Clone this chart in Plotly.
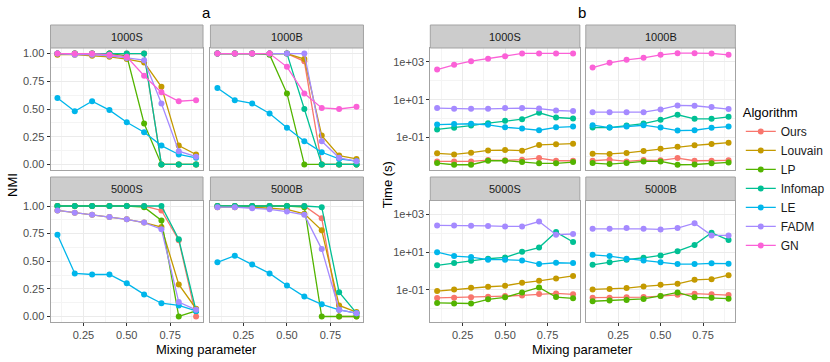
import plotly.graph_objects as go

W, H = 830, 362

mixing = [0.1, 0.2, 0.3, 0.4, 0.5, 0.6, 0.7, 0.8, 0.9]
algorithms = ["Ours", "Louvain", "LP", "Infomap", "LE", "FADM", "GN"]
colors = ["#F8766D", "#C49A00", "#53B400", "#00C094", "#00B6EB", "#A58AFF", "#FB61D7"]
datasets = ["1000S", "1000B", "5000S", "5000B"]

# NMI (panel a)
nmi_1000S = {
    "Ours":    [1, 1, 1, 1, 1, 1, 0, 0, 0],
    "Louvain": [0.99, 0.99, 0.98, 0.97, 0.95, 0.92, 0.70, 0.17, 0.09],
    "LP":      [1, 1, 1, 1, 0.98, 0.37, 0, 0, 0],
    "Infomap": [1, 1, 1, 1, 1, 1, 0, 0, 0],
    "LE":      [0.60, 0.48, 0.57, 0.49, 0.38, 0.29, 0.17, 0.09, 0.06],
    "FADM":    [1, 0.99, 0.99, 0.98, 0.96, 0.94, 0.55, 0.12, 0.07],
    "GN":      [1, 1, 1, 0.99, 0.97, 0.80, 0.65, 0.57, 0.58],
}
nmi_1000B = {
    "Ours":    [1, 1, 1, 1, 1, 0.93, 0, 0, 0],
    "Louvain": [1, 1, 1, 1, 1, 0.95, 0.26, 0.08, 0.05],
    "LP":      [1, 1, 1, 0.99, 0.64, 0, 0, 0, 0],
    "Infomap": [1, 1, 1, 1, 1, 0.50, 0, 0, 0],
    "LE":      [0.69, 0.58, 0.55, 0.46, 0.33, 0.21, 0.11, 0.05, 0.03],
    "FADM":    [1, 1, 1, 1, 1, 1, 0.21, 0.06, 0.03],
    "GN":      [1, 1, 1, 1, 0.88, 0.64, 0.51, 0.50, 0.52],
}
nmi_5000S = {
    "Ours":    [1, 1, 1, 1, 1, 1, 0.96, 0.69, 0],
    "Louvain": [0.96, 0.94, 0.92, 0.90, 0.88, 0.85, 0.81, 0.29, 0.07],
    "LP":      [1, 1, 1, 1, 1, 0.99, 0.87, 0, 0.05],
    "Infomap": [1, 1, 1, 1, 1, 1, 1, 0.70, 0.05],
    "LE":      [0.74, 0.39, 0.38, 0.38, 0.30, 0.20, 0.12, 0.10, 0.05],
    "FADM":    [0.96, 0.94, 0.92, 0.90, 0.88, 0.85, 0.79, 0.13, 0.06],
}
nmi_5000B = {
    "Ours":    [1, 1, 1, 1, 1, 1, 0.89, 0, 0],
    "Louvain": [0.99, 0.99, 0.99, 0.98, 0.97, 0.93, 0.78, 0.10, 0.04],
    "LP":      [1, 1, 1, 1, 1, 0.99, 0, 0, 0],
    "Infomap": [1, 1, 1, 1, 1, 1, 0.99, 0.22, 0.03],
    "LE":      [0.49, 0.55, 0.47, 0.39, 0.28, 0.18, 0.11, 0.06, 0.03],
    "FADM":    [0.99, 0.99, 0.98, 0.97, 0.95, 0.92, 0.61, 0.06, 0.03],
}

# Time in seconds (panel b)
time_1000S = {
    "Ours":    [0.0055, 0.0055, 0.0055, 0.0065, 0.0063, 0.0068, 0.0083, 0.006, 0.006],
    "Louvain": [0.0148, 0.013, 0.016, 0.021, 0.022, 0.0204, 0.041, 0.044, 0.048],
    "LP":      [0.0045, 0.0037, 0.0037, 0.006, 0.006, 0.0051, 0.0044, 0.0044, 0.0051],
    "Infomap": [0.27, 0.33, 0.43, 0.58, 0.77, 0.94, 2.04, 1.15, 1.02],
    "LE":      [0.49, 0.53, 0.54, 0.47, 0.35, 0.30, 0.245, 0.35, 0.38],
    "FADM":    [3.6, 3.3, 3.3, 3.3, 3.6, 3.6, 3.4, 2.7, 2.5],
    "GN":      [392, 692, 1084, 1443, 2000, 2770, 2770, 2770, 2770],
}
time_1000B = {
    "Ours":    [0.006, 0.0068, 0.0055, 0.0065, 0.0063, 0.0083, 0.006, 0.006, 0.0063],
    "Louvain": [0.0142, 0.0137, 0.0155, 0.0196, 0.026, 0.033, 0.039, 0.046, 0.054],
    "LP":      [0.0045, 0.004, 0.0046, 0.0055, 0.0055, 0.0037, 0.0038, 0.0044, 0.0049],
    "Infomap": [0.34, 0.34, 0.43, 0.55, 0.87, 1.6, 0.98, 0.98, 1.25],
    "LE":      [0.45, 0.34, 0.38, 0.45, 0.34, 0.235, 0.245, 0.33, 0.38],
    "FADM":    [2.2, 2.2, 2.2, 2.2, 3.07, 5.0, 4.8, 4.1, 3.2],
    "GN":      [500, 885, 1276, 1630, 2350, 2880, 2880, 2770, 2350],
}
time_5000S = {
    "Ours":    [0.0366, 0.0381, 0.0397, 0.043, 0.046, 0.050, 0.059, 0.064, 0.057],
    "Louvain": [0.085, 0.104, 0.127, 0.144, 0.162, 0.233, 0.296, 0.39, 0.54],
    "LP":      [0.020, 0.0186, 0.0186, 0.031, 0.0397, 0.072, 0.132, 0.041, 0.035],
    "Infomap": [1.96, 2.6, 3.45, 4.4, 5.15, 10.2, 17.2, 114, 34],
    "LE":      [9.8, 6.05, 5.36, 3.9, 3.9, 3.6, 2.3, 2.7, 2.6],
    "FADM":    [255, 255, 245, 240, 226, 226, 413, 83, 90],
}
time_5000B = {
    "Ours":    [0.038, 0.038, 0.0397, 0.041, 0.046, 0.0547, 0.062, 0.057, 0.052],
    "Louvain": [0.104, 0.108, 0.122, 0.15, 0.183, 0.206, 0.334, 0.362, 0.587],
    "LP":      [0.0245, 0.0266, 0.0288, 0.0326, 0.047, 0.072, 0.0397, 0.038, 0.0336],
    "Infomap": [2.1, 2.9, 3.9, 4.95, 6.6, 11.1, 23.8, 105, 43],
    "LE":      [7.1, 6.05, 4.4, 3.6, 2.9, 2.3, 2.3, 2.5, 2.4],
    "FADM":    [170, 170, 185, 170, 157, 185, 338, 76, 76],
}

nmi = [nmi_1000S, nmi_1000B, nmi_5000S, nmi_5000B]
times = [time_1000S, time_1000B, time_5000S, time_5000B]

FONT = "Liberation Sans, Arial, sans-serif"
BORDER = "#A3A3A3"


def fx(px):
    return px / W


def fy(py):
    return 1 - py / H


# pixel boxes for each facet: (x0, x1) columns and (strip_top, plot_top, plot_bottom) rows
cols_a = [(51, 205), (212.5, 367)]
cols_b = [(434.5, 585.5), (591.5, 742.5)]
rows = [(25, 48, 170), (177, 200.5, 322)]

fig = go.Figure()
layout = {}
shapes = []
annotations = []

ax = 0
legend_done = set()
for panel, (cols, store) in enumerate([(cols_a, nmi), (cols_b, times)]):
    for k, name in enumerate(datasets):
        r, c = divmod(k, 2)
        ax += 1
        xa = "xaxis" if ax == 1 else f"xaxis{ax}"
        ya = "yaxis" if ax == 1 else f"yaxis{ax}"
        xref = "x" if ax == 1 else f"x{ax}"
        yref = "y" if ax == 1 else f"y{ax}"
        x0, x1 = cols[c]
        st, pt, pb = rows[r]

        layout[xa] = dict(
            domain=[fx(x0), fx(x1)], anchor=yref, range=[0.06, 0.94],
            tickvals=[0.25, 0.5, 0.75], ticktext=["0.25", "0.50", "0.75"],
            showticklabels=(r == 1), ticks="outside" if r == 1 else "",
            ticklen=3, tickcolor="#333333",
            tickfont=dict(size=11, color="#4D4D4D", family=FONT),
            showgrid=True, gridcolor="#EBEBEB", gridwidth=1,
            minor=dict(tickvals=[0.125, 0.375, 0.625, 0.875], showgrid=True,
                       gridcolor="#F4F4F4", gridwidth=1),
            showline=True, mirror=True, linecolor=BORDER, linewidth=1,
            zeroline=False,
        )
        if panel == 0:
            yopts = dict(range=[-0.05, 1.05], tickvals=[0, 0.25, 0.5, 0.75, 1.0],
                         ticktext=["0.00", "0.25", "0.50", "0.75", "1.00"],
                         minor=dict(tickvals=[0.125, 0.375, 0.625, 0.875], showgrid=True,
                                    gridcolor="#F4F4F4", gridwidth=1))
        else:
            yopts = dict(type="log", range=[-2.71, 3.73], tickvals=[0.1, 10, 1000],
                         ticktext=["1e-01", "1e+01", "1e+03"],
                         minor=dict(tickvals=[0.01, 1, 100], showgrid=True,
                                    gridcolor="#F4F4F4", gridwidth=1))
        layout[ya] = dict(
            domain=[fy(pb), fy(pt)], anchor=xref,
            showticklabels=(c == 0), ticks="outside" if c == 0 else "",
            ticklen=3, tickcolor="#333333",
            tickfont=dict(size=11, color="#4D4D4D", family=FONT),
            showgrid=True, gridcolor="#EBEBEB", gridwidth=1,
            showline=True, mirror=True, linecolor=BORDER, linewidth=1,
            zeroline=False, **yopts,
        )

        # facet strip
        shapes.append(dict(type="rect", xref="paper", yref="paper",
                           x0=fx(x0), x1=fx(x1), y0=fy(pt), y1=fy(st),
                           fillcolor="#CCCCCC", line=dict(color=BORDER, width=1)))
        annotations.append(dict(text=name, xref="paper", yref="paper",
                                x=fx((x0 + x1) / 2), y=fy((st + pt) / 2),
                                showarrow=False, xanchor="center", yanchor="middle",
                                font=dict(size=11, color="#1A1A1A", family=FONT)))

        data = store[k]
        for alg, col in zip(algorithms, colors):
            if alg not in data:
                continue
            show = panel == 1 and alg not in legend_done
            if show:
                legend_done.add(alg)
            fig.add_trace(go.Scatter(
                x=mixing, y=data[alg], mode="lines+markers", name=alg,
                legendgroup=alg, showlegend=show,
                line=dict(color=col, width=1.3),
                marker=dict(color=col, size=6),
                xaxis=xref, yaxis=yref,
            ))

# panel titles and axis titles
for txt, x, y, size, ang in [("a", 209, 13, 15, 0), ("b", 588, 13, 15, 0),
                             ("Mixing parameter", 209, 349, 13, 0),
                             ("Mixing parameter", 588, 349, 13, 0),
                             ("NMI", 12, 185, 13, -90), ("Time (s)", 391, 185, 13, -90)]:
    annotations.append(dict(text=txt, xref="paper", yref="paper", x=fx(x), y=fy(y),
                            showarrow=False, xanchor="center", yanchor="middle",
                            textangle=ang, font=dict(size=size, color="#000000", family=FONT)))

fig.update_layout(
    width=W, height=H,
    margin=dict(l=0, r=0, t=0, b=0),
    paper_bgcolor="white", plot_bgcolor="white",
    font=dict(family=FONT),
    shapes=shapes, annotations=annotations,
    legend=dict(x=fx(748), y=fy(100), xanchor="left", yanchor="top",
                title=dict(text="Algorithm", font=dict(size=13, color="#000000")),
                font=dict(size=12, color="#1A1A1A"), tracegroupgap=0,
                bgcolor="rgba(0,0,0,0)"),
    **layout,
)

# the page body has a default 8px margin; remove it so the figure fills the window
fig.write_html("out.html", config={"displayModeBar": False},
               post_script="document.body.style.margin='0px';")
